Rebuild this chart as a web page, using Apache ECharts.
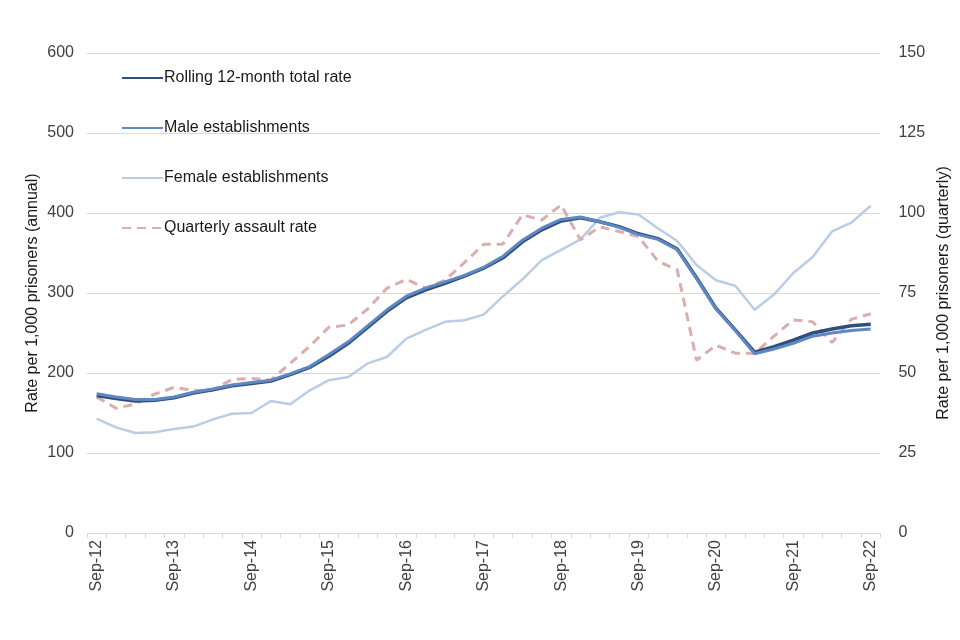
<!DOCTYPE html>
<html>
<head>
<meta charset="utf-8">
<script src="https://cdn.jsdelivr.net/npm/echarts@6/dist/echarts.min.js"></script>
<style>html,body{margin:0;padding:0;background:#fff;}#c{width:960px;height:640px;}</style>
</head>
<body>
<div id="c"></div>
<script>
const categories = [
  'Sep-12','Dec-12','Mar-13','Jun-13','Sep-13','Dec-13','Mar-14','Jun-14',
  'Sep-14','Dec-14','Mar-15','Jun-15','Sep-15','Dec-15','Mar-16','Jun-16',
  'Sep-16','Dec-16','Mar-17','Jun-17','Sep-17','Dec-17','Mar-18','Jun-18',
  'Sep-18','Dec-18','Mar-19','Jun-19','Sep-19','Dec-19','Mar-20','Jun-20',
  'Sep-20','Dec-20','Mar-21','Jun-21','Sep-21','Dec-21','Mar-22','Jun-22','Sep-22'
];
const totalRate = [172,168,165,166,169,175,179,184,187,190,198,207,221,237,257,277,294,304,312,321,331,344,364,379,390,394,389,383,374,368,355,319,281,254,226,233,241,250,255,259,261];
const maleRate = [174,170,167,167,170,176,180,185,188,191,199,208,223,239,259,279,296,306,314,322,332,346,366,381,392,395,389,382,373,367,354,318,280,253,224,230,237,246,250,253,255];
const femaleRate = [143,132,125,126,130,133,142,149,150,165,161,178,191,195,212,220,243,254,264,266,273,296,317,341,354,367,394,401,398,381,365,335,316,309,279,298,325,345,377,388,409];
const quarterlyRate = [42.5,39,40.3,43.4,45.5,44.5,44.7,48,48.3,47.8,53,58.3,64.3,65,70,76.5,79.3,76.5,79,84.5,90.2,90.3,99.4,97.8,102.5,91.6,95.7,94.2,92.6,85,82.2,54,58.7,56.2,56.1,61.5,66.6,66,59.5,66.8,68.5];
const leftTicks = [0,600,100];
const rightTicks = [0,150,25];

const font = 'Liberation Sans, Arial, sans-serif';
const chart = echarts.init(document.getElementById('c'), null, {renderer:'canvas'});
chart.setOption({
  animation:false,
  backgroundColor:'#fff',
  grid:{left:87, right:79, top:53, bottom:107},
  legend:{
    orient:'vertical', left:116, top:65, itemWidth:41, itemHeight:16, itemGap:34,
    itemStyle:{opacity:0},
    textStyle:{fontFamily:font, fontSize:16, lineHeight:16, color:'#1a1a1a', padding:[0,0,0,-4]},
    data:['Rolling 12-month total rate','Male establishments','Female establishments','Quarterly assault rate']
  },
  xAxis:{
    type:'category', data:categories, boundaryGap:true,
    axisLine:{lineStyle:{color:'#d9d9d9', width:1}},
    axisTick:{show:true, interval:0, length:5, lineStyle:{color:'#d9d9d9'}},
    axisLabel:{interval:3, rotate:90, fontFamily:font, fontSize:16, color:'#404040', margin:7},
    splitLine:{show:false}
  },
  yAxis:[
    {type:'value', min:leftTicks[0], max:leftTicks[1], interval:leftTicks[2],
     name:'Rate per 1,000 prisoners (annual)', nameLocation:'middle', nameGap:46, nameRotate:90,
     nameMoveOverlap:false,
     nameTextStyle:{fontFamily:font, fontSize:16, color:'#1a1a1a'},
     axisLine:{show:false}, axisTick:{show:false},
     axisLabel:{fontFamily:font, fontSize:16, color:'#404040', margin:13},
     splitLine:{lineStyle:{color:'#d9d9d9', width:1}}},
    {type:'value', min:rightTicks[0], max:rightTicks[1], interval:rightTicks[2],
     name:'Rate per 1,000 prisoners (quarterly)', nameLocation:'middle', nameGap:50, nameRotate:90,
     nameTextStyle:{fontFamily:font, fontSize:16, color:'#1a1a1a'},
     axisLine:{show:false}, axisTick:{show:false},
     axisLabel:{fontFamily:font, fontSize:16, color:'#404040', margin:18},
     splitLine:{show:false}}
  ],
  series:[
    {name:'Female establishments', type:'line', data:femaleRate, yAxisIndex:0, showSymbol:false, symbol:'none',
     lineStyle:{color:'#b9cde6', width:2.5}, itemStyle:{color:'#b9cde6'}, z:2},
    {name:'Quarterly assault rate', type:'line', data:quarterlyRate, yAxisIndex:1, showSymbol:false, symbol:'none',
     lineStyle:{color:'#dbaeae', width:3, type:[9,6]}, itemStyle:{color:'#dbaeae'}, z:3},
    {name:'Rolling 12-month total rate', type:'line', data:totalRate, yAxisIndex:0, showSymbol:false, symbol:'none',
     lineStyle:{color:'#2f4e7e', width:3.5}, itemStyle:{color:'#2f4e7e'}, z:4},
    {name:'Male establishments', type:'line', data:maleRate, yAxisIndex:0, showSymbol:false, symbol:'none',
     lineStyle:{color:'#5f88c2', width:3}, itemStyle:{color:'#5f88c2'}, z:5}
  ]
});
</script>
</body>
</html>
